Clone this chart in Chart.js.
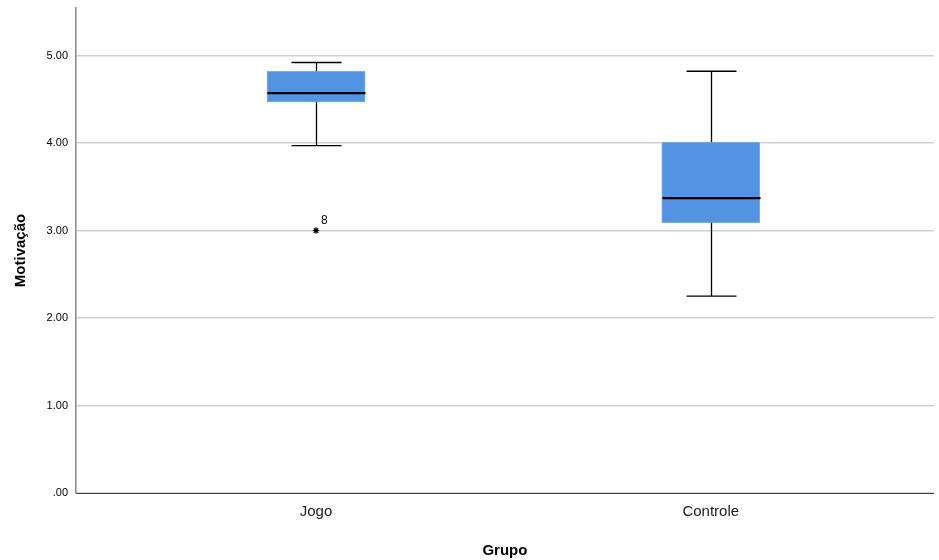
<!DOCTYPE html>
<html>
<head>
<meta charset="utf-8">
<script src="https://cdn.jsdelivr.net/npm/chart.js@4.4.1/dist/chart.umd.min.js"></script>
<style>
html,body{margin:0;padding:0;background:#fff;overflow:hidden;}
#wrap{width:939px;height:560px;position:relative;}
</style>
</head>
<body>
<div id="wrap"><canvas id="c" width="939" height="560"></canvas></div>
<script>
const groups = ['Jogo', 'Controle'];
const groupX = [1, 2];
const whiskerLow = [3.97, 2.25];
const q1 = [4.47, 3.09];
const median = [4.57, 3.37];
const q3 = [4.82, 4.01];
const whiskerHigh = [4.92, 4.82];
const outlierGroup = [1];
const outlierValues = [3.00];
const outlierLabels = ['8'];
const yTicks = [0, 1, 2, 3, 4, 5];

const boxData = groupX.map((x, i) => ({x: x, y: [q1[i], q3[i]]}));
const outlierData = outlierGroup.map((g, i) => ({x: g, y: outlierValues[i]}));

const boxPlugin = {
  id: 'boxExtras',
  afterDatasetsDraw(chart) {
    const ctx = chart.ctx;
    const xs = chart.scales.x, ys = chart.scales.y;
    ctx.save();
    groupX.forEach((gx, i) => {
      const cx = Math.round(xs.getPixelForValue(gx)) + 0.5;
      const capHalf = 25;
      const boxHalf = 49;
      ctx.strokeStyle = '#000';
      ctx.lineWidth = 1.3;
      ctx.beginPath();
      ctx.moveTo(cx, ys.getPixelForValue(q3[i]));
      ctx.lineTo(cx, ys.getPixelForValue(whiskerHigh[i]));
      ctx.stroke();
      ctx.beginPath();
      ctx.moveTo(cx - capHalf, ys.getPixelForValue(whiskerHigh[i]));
      ctx.lineTo(cx + capHalf, ys.getPixelForValue(whiskerHigh[i]));
      ctx.stroke();
      ctx.beginPath();
      ctx.moveTo(cx, ys.getPixelForValue(q1[i]));
      ctx.lineTo(cx, ys.getPixelForValue(whiskerLow[i]));
      ctx.stroke();
      ctx.beginPath();
      ctx.moveTo(cx - capHalf, ys.getPixelForValue(whiskerLow[i]));
      ctx.lineTo(cx + capHalf, ys.getPixelForValue(whiskerLow[i]));
      ctx.stroke();
      ctx.lineWidth = 2.2;
      ctx.beginPath();
      ctx.moveTo(cx - boxHalf, ys.getPixelForValue(median[i]));
      ctx.lineTo(cx + boxHalf, ys.getPixelForValue(median[i]));
      ctx.stroke();
    });
    ctx.fillStyle = '#000';
    ctx.font = '12px "Liberation Sans", Arial, sans-serif';
    ctx.textAlign = 'left';
    ctx.textBaseline = 'middle';
    outlierGroup.forEach((g, i) => {
      const px = xs.getPixelForValue(g);
      const py = ys.getPixelForValue(outlierValues[i]);
      ctx.fillText(outlierLabels[i], px + 5, py - 10);
    });
    ctx.restore();
  }
};

Chart.defaults.font.family = '"Liberation Sans", Arial, sans-serif';
Chart.defaults.color = '#000';

new Chart(document.getElementById('c'), {
  data: {
    datasets: [
      {
        type: 'bar',
        data: boxData,
        backgroundColor: '#5294e2',
        borderColor: '#7aaeea',
        borderWidth: 1,
        borderSkipped: false,
        barThickness: 98
      },
      {
        type: 'scatter',
        data: outlierData,
        pointStyle: 'star',
        radius: 3.2,
        borderColor: '#000',
        borderWidth: 1.2,
        backgroundColor: '#000'
      }
    ]
  },
  options: {
    responsive: false,
    animation: false,
    devicePixelRatio: 1,
    layout: {padding: {top: 8, right: 2, left: 0, bottom: 0}},
    plugins: {legend: {display: false}, tooltip: {enabled: false}},
    scales: {
      x: {
        type: 'linear',
        offset: false,
        min: 0.392,
        max: 2.565,
        afterBuildTicks(axis) { axis.ticks = groupX.map(v => ({value: v})); },
        afterFit(axis) { axis.height = 67; axis.paddingLeft = 0; axis.paddingRight = 0; },
        ticks: {
          callback: (v) => { const i = groupX.indexOf(v); return i >= 0 ? groups[i] : ''; },
          font: {size: 15},
          color: '#222',
          padding: 10,
          maxRotation: 0,
          autoSkip: false
        },
        grid: {display: false, drawTicks: false, offset: false},
        border: {display: true, color: '#444', width: 1},
        title: {display: true, text: 'Grupo', font: {size: 15, weight: 'bold'}, color: '#000', padding: {top: 5, bottom: 0}}
      },
      y: {
        type: 'linear',
        min: 0,
        max: 5.543,
        afterBuildTicks(axis) { axis.ticks = yTicks.map(v => ({value: v})); },
        afterFit(axis) { axis.width = 76; axis.paddingTop = 0; axis.paddingBottom = 0; },
        ticks: {
          callback: (v) => v === 0 ? '.00' : v.toFixed(2),
          font: {size: 11},
          color: '#000',
          padding: 8
        },
        grid: {color: '#d2d2d2', lineWidth: 1.5, drawTicks: false},
        border: {display: true, color: '#888', width: 1.5},
        title: {display: true, text: 'Motivação', font: {size: 15, weight: 'bold'}, color: '#000', padding: {top: 12, bottom: 6}}
      }
    }
  },
  plugins: [boxPlugin]
});
</script>
</body>
</html>
